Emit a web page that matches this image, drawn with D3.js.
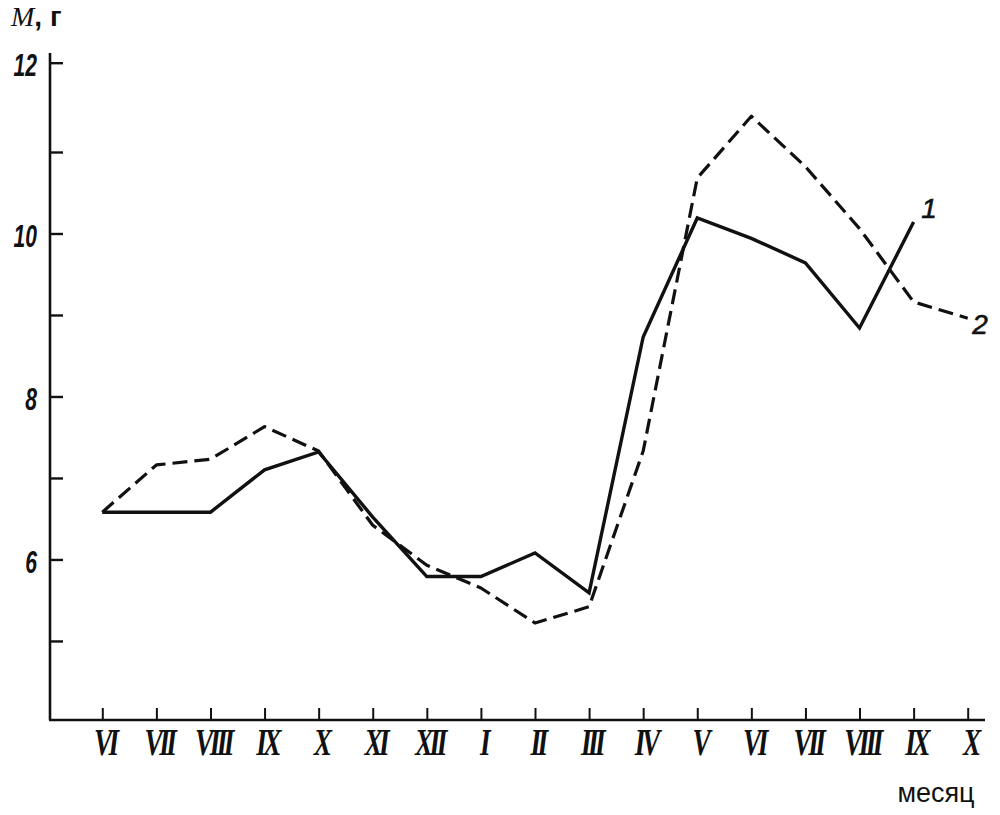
<!DOCTYPE html>
<html>
<head>
<meta charset="utf-8">
<script src="https://cdn.jsdelivr.net/npm/d3@7/dist/d3.min.js"></script>
<style>
  html, body { margin: 0; padding: 0; background: #fff; }
  svg { display: block; }
</style>
</head>
<body>
<svg id="chart" width="1000" height="815"></svg>
<script>
// ---- data ----
const months = ["VI","VII","VIII","IX","X","XI","XII","I","II","III","IV","V","VI","VII","VIII","IX","X"];
const series1 = [6.58,6.58,6.58,7.10,7.32,6.52,5.79,5.79,6.08,5.59,8.73,10.19,9.94,9.64,8.84,10.14];
const series2 = [6.58,7.16,7.23,7.63,7.33,6.42,5.93,5.65,5.22,5.42,7.33,10.68,11.40,10.82,10.06,9.16,8.96];
const yTicks = [5,6,7,8,9,10,11,12];
const yLabelled = [6,8,10,12];
const seriesNames = ["1","2"];
const yTitle = ["M", ", г"];
const xTitle = "месяц";

// ---- scales ----
const svg = d3.select("#chart");
const x = d3.scalePoint().domain(d3.range(months.length)).range([102.3, 967.7]);
const y = d3.scaleLinear().domain([4.03, 11, 12]).range([720, 152, 62.7]);

const ink = "#111";

// axis lines
svg.append("line").attr("x1", 50).attr("x2", 50).attr("y1", 53).attr("y2", 720)
  .attr("stroke", ink).attr("stroke-width", 2.6);
svg.append("line").attr("x1", 49).attr("x2", 985).attr("y1", 720).attr("y2", 720)
  .attr("stroke", ink).attr("stroke-width", 2.4);

// y axis
const yAxis = svg.append("g").attr("transform", "translate(50,0)")
  .call(d3.axisLeft(y).tickValues(yTicks).tickSize(-13).tickSizeOuter(0)
    .tickFormat(d => yLabelled.includes(d) ? String(d) : ""));
yAxis.select(".domain").remove();
yAxis.selectAll(".tick line").attr("stroke", ink).attr("stroke-width", 2.4);
yAxis.selectAll(".tick text")
  .attr("x", 0).attr("dy", "0.42em")
  .attr("transform", "translate(-13,0) scale(0.68,1)")
  .attr("text-anchor", "end")
  .attr("fill", ink)
  .style("font-family", "'Liberation Sans', Arial, sans-serif")
  .style("font-style", "italic")
  .style("font-weight", "bold")
  .style("font-size", "31px");

// x axis
const xAxis = svg.append("g").attr("transform", "translate(0,720)")
  .call(d3.axisBottom(x).tickSize(-12).tickSizeOuter(0).tickFormat(i => months[i]));
xAxis.select(".domain").remove();
xAxis.selectAll(".tick line").attr("stroke", ink).attr("stroke-width", 2);
xAxis.selectAll(".tick text")
  .attr("y", 0).attr("dy", 0)
  .attr("transform", "translate(2,35) scale(0.72,1)")
  .attr("fill", ink)
  .style("font-family", "'Liberation Serif', 'Times New Roman', serif")
  .style("font-style", "italic")
  .style("font-weight", "bold")
  .style("letter-spacing", "-5px")
  .style("font-size", "38px");

// lines
const line = d3.line().x((d, i) => x(i)).y(d => y(d)).curve(d3.curveLinear);
svg.append("path").datum(series2).attr("d", line)
  .attr("fill", "none").attr("stroke", ink).attr("stroke-width", 3.2)
  .attr("stroke-dasharray", "15,7").attr("stroke-linejoin", "round");
svg.append("path").datum(series1).attr("d", line)
  .attr("fill", "none").attr("stroke", ink).attr("stroke-width", 3.4)
  .attr("stroke-linejoin", "miter");

// series labels
[[seriesNames[0], 929, 218], [seriesNames[1], 980, 334]].forEach(([t, lx, ly]) => {
  svg.append("text").attr("x", lx).attr("y", ly).attr("text-anchor", "middle")
    .attr("fill", ink)
    .style("font-family", "'Liberation Sans', Arial, sans-serif")
    .style("font-style", "italic").style("font-size", "28px")
    .style("stroke", ink).style("stroke-width", 0.6)
    .text(t);
});

// axis titles
const yt = svg.append("text").attr("x", 11).attr("y", 26).attr("fill", ink)
  .style("font-family", "'Liberation Serif', 'Times New Roman', serif")
  .style("font-size", "28px");
yt.append("tspan").style("font-style", "italic").text(yTitle[0]);
yt.append("tspan").style("font-family", "'Liberation Sans', Arial, sans-serif")
  .style("font-weight", "bold").text(yTitle[1]);

svg.append("text").attr("x", 936).attr("y", 802).attr("text-anchor", "middle")
  .attr("fill", ink)
  .style("font-family", "'Liberation Sans', Arial, sans-serif")
  .style("font-size", "27px")
  .text(xTitle);
</script>
</body>
</html>
